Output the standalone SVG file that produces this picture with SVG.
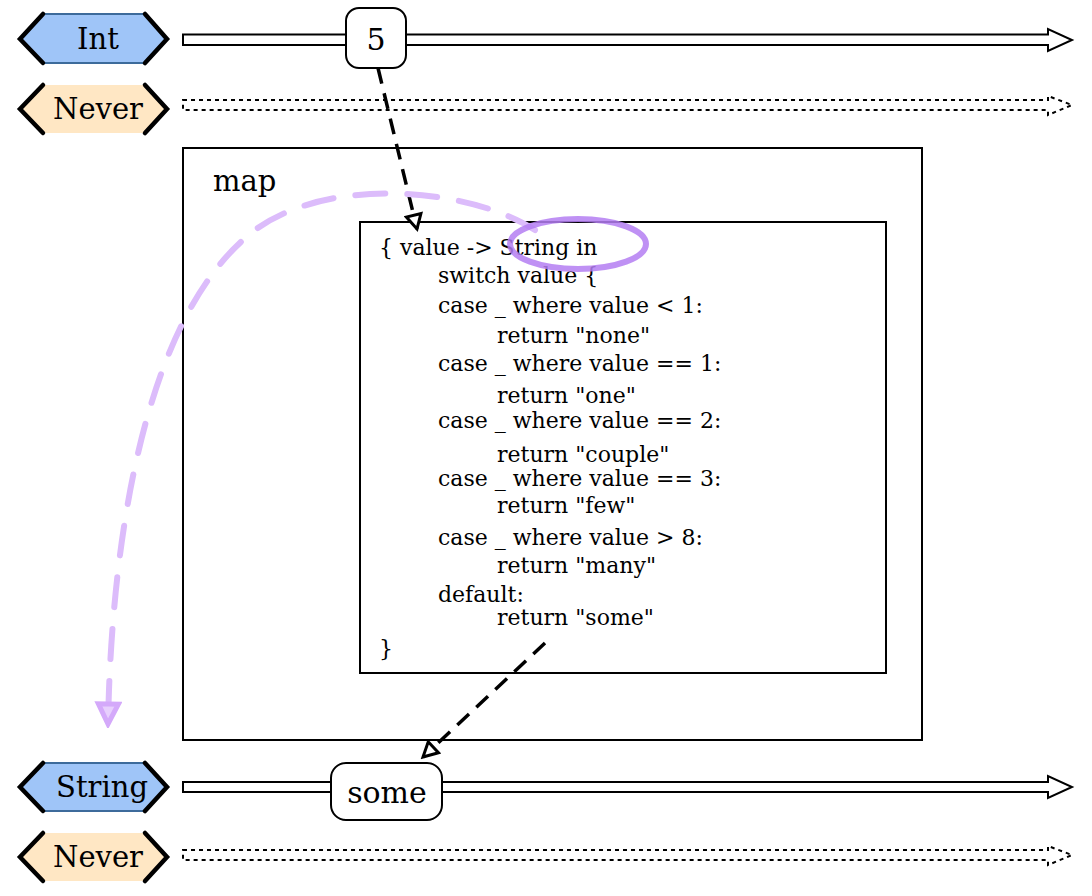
<svg xmlns="http://www.w3.org/2000/svg" width="1092" height="896" viewBox="0 0 1092 896">
  <style>
    .lbl { font-family: "DejaVu Serif", "Liberation Serif", serif; fill: #000; }
    .badge-text { font-size: 29px; text-anchor: middle; dominant-baseline: central; }
    .value-text { font-size: 30px; text-anchor: middle; dominant-baseline: central; }
    .code { font-size: 22px; }
    .chev { fill: none; stroke: #000; stroke-width: 4.5; stroke-linecap: round; stroke-linejoin: miter; }
    .blue { fill: #9fc5f8; stroke: #3d6b9b; stroke-width: 2; }
    .peach { fill: #ffe7c4; stroke: none; }
    .stream { fill: #fff; stroke: #000; stroke-width: 2; }
    .stream-never { fill: #fff; stroke: #000; stroke-width: 2; stroke-dasharray: 4 4; }
    .token { fill: #fff; stroke: #000; stroke-width: 2; }
    .box { fill: none; stroke: #000; stroke-width: 2; }
    .flow { fill: none; stroke: #000; stroke-width: 3.5; stroke-dasharray: 16 10; }
    .trace { fill: none; stroke: #dcbcfb; stroke-width: 6; stroke-dasharray: 30 22; stroke-linecap: round; }
  </style>
  <defs>
    <marker id="hollow" viewBox="0 0 12 12" refX="10" refY="6" markerWidth="20" markerHeight="20" markerUnits="userSpaceOnUse" orient="auto">
      <path d="M1.5,1.5 L10,6 L1.5,10.5 Z" fill="#fff" stroke="#000" stroke-width="1.8"/>
    </marker>
    <marker id="hollow-purple" viewBox="0 0 14 14" refX="12" refY="7" markerWidth="28" markerHeight="28" markerUnits="userSpaceOnUse" orient="auto">
      <path d="M2,2 L12,7 L2,12 Z" fill="#e7cffd" stroke="#d4a9fa" stroke-width="2.5"/>
    </marker>
  </defs>

  <!-- map operator box -->
  <g id="map">
    <rect class="box" x="183" y="148" width="739" height="592"/>
    <text class="lbl" x="213" y="191" font-size="29">map</text>
  </g>

  <!-- closure body -->
  <g id="closure">
    <rect class="box" x="360" y="222" width="526" height="451"/>
    <g class="lbl code">
      <text x="379" y="255">{ value -&gt; String in</text>
      <text x="438" y="283">switch value {</text>
      <text x="438" y="313">case _ where value &lt; 1:</text>
      <text x="497" y="343">return "none"</text>
      <text x="438" y="371">case _ where value == 1:</text>
      <text x="497" y="403">return "one"</text>
      <text x="438" y="428">case _ where value == 2:</text>
      <text x="497" y="462">return "couple"</text>
      <text x="438" y="486">case _ where value == 3:</text>
      <text x="497" y="513">return "few"</text>
      <text x="438" y="545">case _ where value &gt; 8:</text>
      <text x="497" y="573">return "many"</text>
      <text x="438" y="602">default:</text>
      <text x="497" y="625">return "some"</text>
      <text x="379" y="656">}</text>
    </g>
  </g>

  <!-- streams -->
  <g id="int-stream">
    <path class="stream" d="M183,34.5 H1048 V29 L1072,40 L1048,51 V45 H183 Z"/>
  </g>
  <g id="never-stream-top">
    <path class="stream-never" d="M183,100 H1048 V96 L1072,105 L1048,115 V110 H183 Z"/>
  </g>
  <g id="string-stream">
    <path class="stream" d="M183,782 H1048 V776 L1072,787 L1048,798 V792 H183 Z"/>
  </g>
  <g id="never-stream-bottom">
    <path class="stream-never" d="M183,850 H1048 V846 L1072,855 L1048,865 V860 H183 Z"/>
  </g>

  <!-- connectors -->
  <g id="connectors">
    <path class="flow" d="M378,68 L417,229" marker-end="url(#hollow)"/>
    <path class="flow" d="M545,643 L423,757" marker-end="url(#hollow)"/>
    <path class="trace" d="M535,230 C470,188 330,175 255,230 C150,310 112,520 108,724" marker-end="url(#hollow-purple)"/>
  </g>

  <!-- highlight ring -->
  <g id="highlight">
    <ellipse cx="578" cy="244" rx="68" ry="25" fill="none" stroke="#b47ef2" stroke-opacity="0.85" stroke-width="6"/>
  </g>

  <!-- values -->
  <g id="value-5">
    <rect class="token" x="346" y="8" width="60" height="60" rx="13"/>
    <text class="lbl value-text" x="376" y="39">5</text>
  </g>
  <g id="value-some">
    <rect class="token" x="331" y="763" width="111" height="57" rx="15"/>
    <text class="lbl value-text" x="387" y="792">some</text>
  </g>

  <!-- type badges -->
  <g id="type-int">
    <polygon class="blue" points="43,14 145,14 167,39 145,63 43,63 20,39"/>
    <polyline class="chev" points="43,14 20,39 43,63"/>
    <polyline class="chev" points="145,14 167,39 145,63"/>
    <text class="lbl badge-text" x="98" y="39" font-size="31">Int</text>
  </g>
  <g id="type-never-top">
    <polygon class="peach" points="43,85 145,85 167,109 145,133 43,133 20,109"/>
    <polyline class="chev" points="43,85 20,109 43,133"/>
    <polyline class="chev" points="145,85 167,109 145,133"/>
    <text class="lbl badge-text" x="98" y="109">Never</text>
  </g>
  <g id="type-string">
    <polygon class="blue" points="43,763 145,763 167,787 145,811 43,811 20,787"/>
    <polyline class="chev" points="43,763 20,787 43,811"/>
    <polyline class="chev" points="145,763 167,787 145,811"/>
    <text class="lbl badge-text" x="102" y="787">String</text>
  </g>
  <g id="type-never-bottom">
    <polygon class="peach" points="43,833 145,833 167,857 145,881 43,881 20,857"/>
    <polyline class="chev" points="43,833 20,857 43,881"/>
    <polyline class="chev" points="145,833 167,857 145,881"/>
    <text class="lbl badge-text" x="98" y="857">Never</text>
  </g>
</svg>
